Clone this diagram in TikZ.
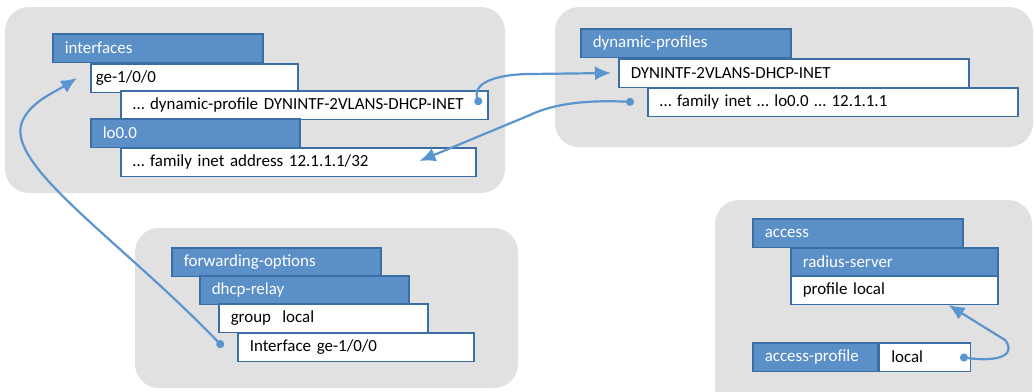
\documentclass[tikz,border=0pt]{standalone}
\usepackage{fontspec}
\setmainfont{Carlito}
\usepackage{tikz}
\usetikzlibrary{arrows.meta,%
                shapes,positioning}
\definecolor{cfgblue}{HTML}{5B8FC8}
\definecolor{cfgedge}{HTML}{3C6EA6}
\definecolor{grpgray}{HTML}{E1E1E1}
\definecolor{linkblue}{HTML}{5A95CF}
\tikzstyle{grp}=[fill=grpgray,rounded corners=24bp]
\tikzstyle{hdr}=[rectangle,anchor=north west,draw=cfgedge,line width=1.5bp,fill=cfgblue,text=white,inner xsep=12bp,inner ysep=0bp,minimum height=28.5bp,align=left]
\tikzstyle{val}=[hdr,fill=white,text=black]
\tikzstyle{link}=[draw=linkblue,line width=2.2bp,{Circle[length=8bp]}-{Latex[length=16bp,width=14bp]}]

\begin{document}
\begin{tikzpicture}[x=1bp,y=-1bp,font=\fontsize{17}{20}\selectfont]
	%%
	\useasboundingbox (0,0) rectangle (1035,391);
	\clip (0,0) rectangle (1035,391);
	\fill [grp] (5,7) rectangle (505,193);
	\fill [grp] (555,7) rectangle (1033,147);
	\fill [grp] (135,228) rectangle (518,388);
	\fill [grp] (715,200) rectangle (1032,420);
	%%
	\node (intfs) at (52,33) [hdr,text width=186bp] {interfaces};
	  \node (ge) at (90,63) [val,inner xsep=5bp,text width=197bp] {ge-1/0/0};
	  \node (dynref) at (120,90) [val,text width=343bp] {\dots{} dynamic-profile DYNINTF-2VLANS-DHCP-INET};
	  \node (lo) at (90,118) [hdr,text width=185bp] {lo0.0};
	  \node (famaddr) at (120,147) [val,text width=331bp] {\dots{} family inet address 12.1.1.1/32};
	\node (dynprof) at (580,28) [hdr,text width=186bp] {dynamic-profiles};
	  \node (dynintf) at (618,58) [val,text width=326bp] {DYNINTF-2VLANS-DHCP-INET};
	  \node (famdyn) at (647,87) [val,text width=346bp] {\dots{} family inet \dots{} lo0.0 \dots{} 12.1.1.1};
	\node (fwdopt) at (171,247) [hdr,text width=185bp] {forwarding-options};
	  \node (relay) at (199,275) [hdr,text width=185bp] {dhcp-relay};
	  \node (group) at (218,303) [val,text width=185bp] {group\ \ local};
	  \node (relintf) at (237,332) [val,text width=212bp] {Interface ge-1/0/0};
	\node (access) at (752,218) [hdr,text width=186bp] {access};
	  \node (radius) at (790,247) [hdr,text width=183bp] {radius-server};
	  \node (profloc) at (790,275) [val,text width=183bp] {profile local};
	  \node (accprof) at (752,342) [hdr,text width=101bp] {access-profile};
	  \node (local) at (accprof.north east) [val,text width=67bp] {local};
	%%
	\draw [link] ([xshift=-9bp]dynref.east) ..controls +(-8,-25) and +(-25,0) .. ([yshift=-1bp]dynintf.west -| 530,0) -- ([xshift=-7bp]dynintf.west);
	\draw [link] ([xshift=-13bp]famdyn.west) ..controls +(-45,-2) and +(25,-12) .. (530,115) -- ([xshift=-57bp,yshift=1bp]famaddr.east);
	\draw [link] ([xshift=-14bp]relintf.west) ..controls (120,240) and (5,165) .. (22,122) ..controls (30,102) and (55,92) .. ([xshift=-13bp]ge.west);
	\draw [link] ([xshift=-11bp]local.east) ..controls +(45,6) and +(10,12) .. (1005,340) -- ([xshift=-50bp]profloc.south east);
	%
\end{tikzpicture}
\end{document}
